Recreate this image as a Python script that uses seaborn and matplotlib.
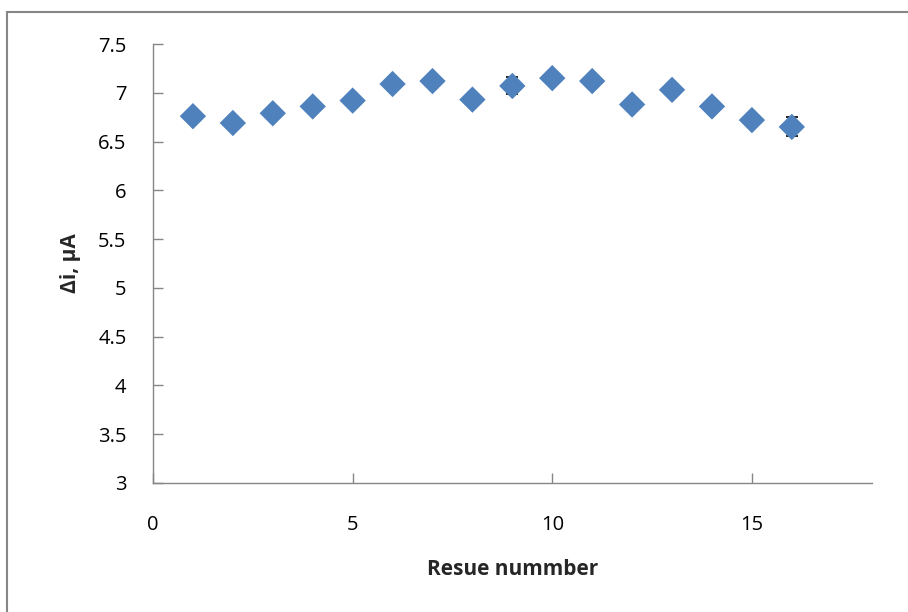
import matplotlib
matplotlib.use("Agg")
import matplotlib.pyplot as plt
from matplotlib.patches import Rectangle
import numpy as np
import pandas as pd
import seaborn as sns

# data
reuse_number = [1, 2, 3, 4, 5, 6, 7, 8, 9, 10, 11, 12, 13, 14, 15, 16]
delta_i = [6.76, 6.69, 6.79, 6.86, 6.92, 7.09, 7.12, 6.93, 7.07, 7.15,
           7.12, 6.88, 7.03, 6.86, 6.72, 6.65]
delta_i_err = [0.06, 0.03, 0.03, 0.03, 0.03, 0.03, 0.03, 0.03, 0.087, 0.03,
               0.03, 0.03, 0.05, 0.03, 0.03, 0.097]

x_ticks = [0, 5, 10, 15]
y_ticks = [3, 3.5, 4, 4.5, 5, 5.5, 6, 6.5, 7, 7.5]

df = pd.DataFrame({"reuse": reuse_number, "di": delta_i, "err": delta_i_err})

sns.set_style("white")
plt.rcParams["font.family"] = ["Open Sans", "DejaVu Sans"]

fig = plt.figure(figsize=(9.08, 6.12), dpi=100)
ax = fig.add_axes([0.1685, 0.2108, 0.7915, 0.7173])

grey = "#868686"
blue = "#4F81BD"

# error bars sit behind the markers, as in the original
ax.errorbar(df["reuse"], df["di"], yerr=df["err"], fmt="none",
            ecolor="black", elinewidth=0.8, capsize=4.5, capthick=1.2, zorder=2)
sns.scatterplot(data=df, x="reuse", y="di", marker="D", s=180,
                color=blue, edgecolor="none", ax=ax, zorder=3)

ax.set_xlim(0, 18)
ax.set_ylim(3, 7.5)
ax.set_xticks(x_ticks)
ax.set_yticks(y_ticks)
ax.set_yticklabels([f"{v:g}" for v in y_ticks])

for side in ["top", "right"]:
    ax.spines[side].set_visible(False)
for side in ["left", "bottom"]:
    ax.spines[side].set_color(grey)
    ax.spines[side].set_linewidth(1.0)

# ticks point inward, like the Excel original (seaborn "white" hides them)
ax.tick_params(axis="both", direction="in", length=7.5, width=1.0,
               color=grey, labelsize=14.5, labelcolor="black",
               bottom=True, left=True)
ax.tick_params(axis="x", pad=23)
ax.tick_params(axis="y", pad=19)

ax.set_xlabel("Resue nummber", fontsize=15, fontweight="bold", labelpad=17)
ax.set_ylabel("\u0394i, \u03bcA", fontsize=15, fontweight="bold", labelpad=12)

# outer chart frame
fig.patches.append(Rectangle((7 / 908, -0.01), 1.02, 1 - 12 / 612 + 0.01,
                             transform=fig.transFigure, fill=False,
                             edgecolor=grey, linewidth=1.5))

fig.savefig("out.png", dpi=100)
